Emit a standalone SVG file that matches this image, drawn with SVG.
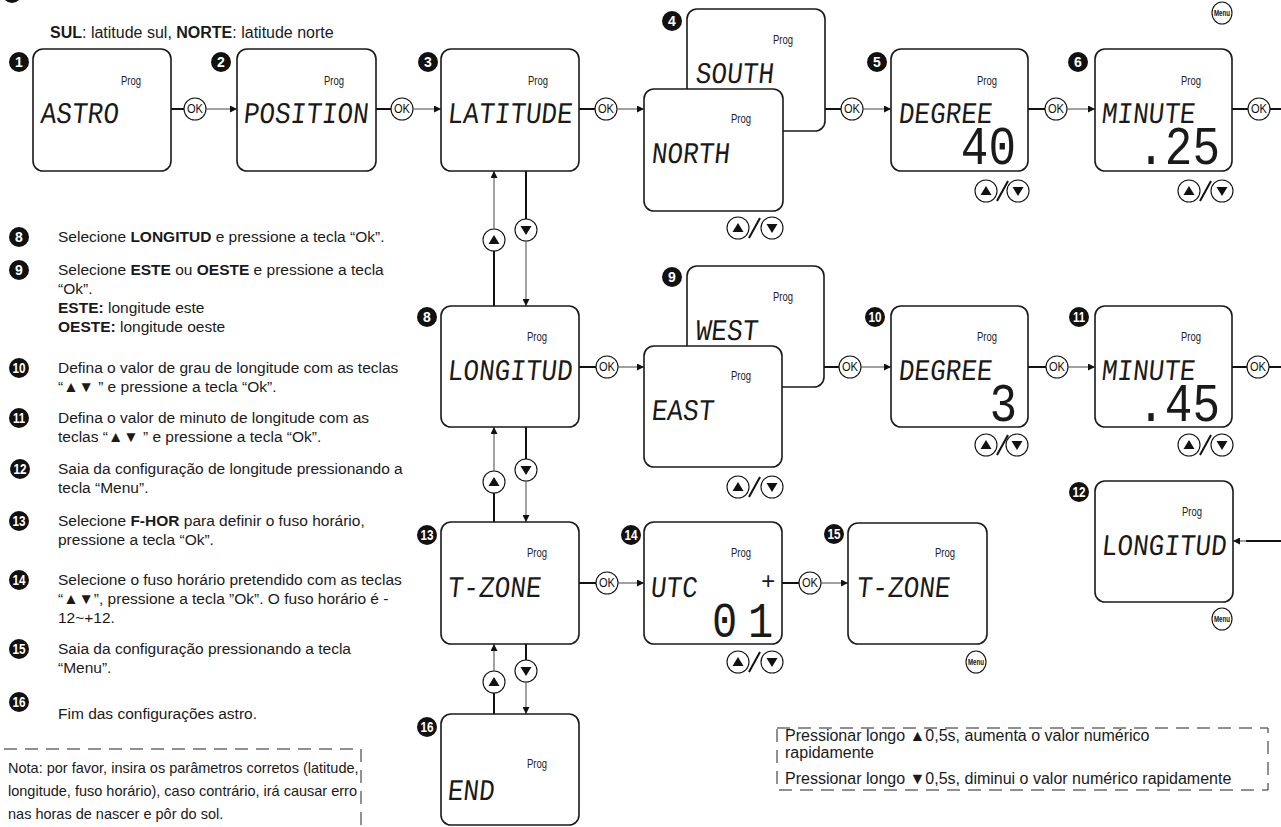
<svg xmlns="http://www.w3.org/2000/svg" xmlns:xlink="http://www.w3.org/1999/xlink" width="1281" height="827" viewBox="0 0 1281 827">
<style>
.box{fill:#fff;stroke:#1a1a1a;stroke-width:1.6}
.lcd{font-family:"Liberation Mono","DejaVu Sans Mono",monospace;font-size:26px;fill:#1a1a1a}
.big{font-family:"Liberation Mono","DejaVu Sans Mono",monospace;font-size:46px;fill:#1a1a1a}
.prog{font-family:"Liberation Sans",Arial,sans-serif;font-size:12px;fill:#222;text-anchor:middle}
.bd{fill:#111}
.bn{font-family:"Liberation Sans",Arial,sans-serif;font-size:14px;font-weight:bold;fill:#fff;text-anchor:middle}
.txt{font-family:"Liberation Sans",Arial,sans-serif;font-size:15.5px;fill:#1a1a1a}
.sm{font-size:14.5px}
.lg{font-size:16px}
.b{font-weight:bold}
.thick{stroke:#111;stroke-width:2;fill:none}
.thin{stroke:#444;stroke-width:1;fill:none}
.btn{fill:#fff;stroke:#111;stroke-width:1.1}
.ok{font-family:"Liberation Sans",Arial,sans-serif;font-size:12px;fill:#111;text-anchor:middle}
.menu{font-family:"Liberation Sans",Arial,sans-serif;font-size:9px;font-weight:bold;fill:#111;text-anchor:middle}
.dash{fill:none;stroke:#222;stroke-width:1;stroke-dasharray:13 8}
</style>
<defs>
<marker id="ah" viewBox="0 0 10 10" refX="10" refY="5" markerWidth="10" markerHeight="7" orient="auto" markerUnits="userSpaceOnUse"><path d="M0,0 L10,5 L0,10 z" fill="#111"/></marker>
<g id="up"><circle r="11" class="btn"/><path d="M-5.5,4 L0,-5 L5.5,4 z" fill="#111"/></g>
<g id="dn"><circle r="11" class="btn"/><path d="M-5.5,-4 L0,5 L5.5,-4 z" fill="#111"/></g>
<g id="okb"><circle r="11" class="btn"/><text y="4.3" class="ok" textLength="16" lengthAdjust="spacingAndGlyphs">OK</text></g>
<g id="menub"><ellipse rx="10" ry="11" class="btn"/><text y="3.3" class="menu" textLength="16" lengthAdjust="spacingAndGlyphs">Menu</text></g>
</defs>
<rect width="1281" height="827" fill="#fff"/>

<!-- top-left cut badge -->
<circle cx="12" cy="-7" r="10" class="bd"/>

<text x="50" y="38" class="txt lg"><tspan class="b">SUL</tspan>: latitude sul, <tspan class="b">NORTE</tspan>: latitude norte</text>

<use xlink:href="#menub" x="1222" y="13"/>

<!-- left column -->
<g id="instructions">
<circle cx="19" cy="237" r="10" class="bd"/><text x="19" y="242" class="bn">8</text>
<text x="58" y="242" class="txt">Selecione <tspan class="b">LONGITUD</tspan> e pressione a tecla “Ok”.</text>
<circle cx="19" cy="270" r="10" class="bd"/><text x="19" y="275" class="bn">9</text>
<text x="58" y="275" class="txt">Selecione <tspan class="b">ESTE</tspan> ou <tspan class="b">OESTE</tspan> e pressione a tecla</text>
<text x="58" y="294" class="txt">“Ok”.</text>
<text x="58" y="313" class="txt"><tspan class="b">ESTE:</tspan> longitude este</text>
<text x="58" y="332" class="txt"><tspan class="b">OESTE:</tspan> longitude oeste</text>
<circle cx="19" cy="368" r="10" class="bd"/><text x="19" y="373" class="bn" textLength="13" lengthAdjust="spacingAndGlyphs">10</text>
<text x="58" y="373" class="txt">Defina o valor de grau de longitude com as teclas</text>
<text x="58" y="392" class="txt">“▲▼ ” e pressione a tecla “Ok”.</text>
<circle cx="19" cy="418" r="10" class="bd"/><text x="19" y="423" class="bn" textLength="12" lengthAdjust="spacingAndGlyphs">11</text>
<text x="58" y="423" class="txt">Defina o valor de minuto de longitude com as</text>
<text x="58" y="442" class="txt">teclas “▲▼ ” e pressione a tecla “Ok”.</text>
<circle cx="20" cy="469" r="10" class="bd"/><text x="20" y="474" class="bn" textLength="13" lengthAdjust="spacingAndGlyphs">12</text>
<text x="58" y="474" class="txt">Saia da configuração de longitude pressionando a</text>
<text x="58" y="493" class="txt">tecla “Menu”.</text>
<circle cx="19" cy="521" r="10" class="bd"/><text x="19" y="526" class="bn" textLength="13" lengthAdjust="spacingAndGlyphs">13</text>
<text x="58" y="526" class="txt">Selecione <tspan class="b">F-HOR</tspan> para definir o fuso horário,</text>
<text x="58" y="545" class="txt">pressione a tecla “Ok”.</text>
<circle cx="19" cy="580" r="10" class="bd"/><text x="19" y="585" class="bn" textLength="13" lengthAdjust="spacingAndGlyphs">14</text>
<text x="58" y="585" class="txt">Selecione o fuso horário pretendido com as teclas</text>
<text x="58" y="604" class="txt">“▲▼”, pressione a tecla ”Ok”. O fuso horário é -</text>
<text x="58" y="623" class="txt">12~+12.</text>
<circle cx="19" cy="649" r="10" class="bd"/><text x="19" y="654" class="bn" textLength="13" lengthAdjust="spacingAndGlyphs">15</text>
<text x="58" y="654" class="txt">Saia da configuração pressionando a tecla</text>
<text x="58" y="673" class="txt">“Menu”.</text>
<circle cx="19" cy="702" r="10" class="bd"/><text x="19" y="707" class="bn" textLength="13" lengthAdjust="spacingAndGlyphs">16</text>
<text x="58" y="719" class="txt">Fim das configurações astro.</text>
</g>

<g id="note-left">
<path d="M4 749 H361 V827" class="dash"/>
<text x="8" y="773" class="txt sm">Nota: por favor, insira os parâmetros corretos (latitude,</text>
<text x="8" y="796" class="txt sm">longitude, fuso horário), caso contrário, irá causar erro</text>
<text x="8" y="819" class="txt sm">nas horas de nascer e pôr do sol.</text>
</g>

<g id="note-right">
<rect x="777" y="728" width="491" height="62" class="dash"/>
<text x="785" y="741" class="txt lg">Pressionar longo ▲0,5s, aumenta o valor numérico</text>
<text x="785" y="758" class="txt lg">rapidamente</text>
<text x="785" y="784" class="txt lg">Pressionar longo ▼0,5s, diminui o valor numérico rapidamente</text>
</g>

<!-- connectors -->
<g id="connectors">
<path d="M171 109 H184" class="thick"/><use xlink:href="#okb" x="195" y="109"/><path d="M206 109 H237" class="thin" marker-end="url(#ah)"/>
<path d="M376 109 H391" class="thick"/><use xlink:href="#okb" x="402" y="109"/><path d="M413 109 H441" class="thin" marker-end="url(#ah)"/>
<path d="M579 109 H595" class="thick"/><use xlink:href="#okb" x="606" y="109"/><path d="M617 109 H644" class="thin" marker-end="url(#ah)"/>
<path d="M825 109 H841" class="thick"/><use xlink:href="#okb" x="852" y="109"/><path d="M863 109 H891" class="thin" marker-end="url(#ah)"/>
<path d="M1028 109 H1045" class="thick"/><use xlink:href="#okb" x="1056" y="109"/><path d="M1067 109 H1095" class="thin" marker-end="url(#ah)"/>
<path d="M1232 109 H1248" class="thick"/><use xlink:href="#okb" x="1259" y="109"/><path d="M1270 109 H1281" class="thick"/>
<path d="M579 367 H596" class="thick"/><use xlink:href="#okb" x="607" y="367"/><path d="M618 367 H644" class="thin" marker-end="url(#ah)"/>
<path d="M824 367 H839" class="thick"/><use xlink:href="#okb" x="850" y="367"/><path d="M861 367 H891" class="thin" marker-end="url(#ah)"/>
<path d="M1028 367 H1046" class="thick"/><use xlink:href="#okb" x="1057" y="367"/><path d="M1068 367 H1095" class="thin" marker-end="url(#ah)"/>
<path d="M1232 367 H1247" class="thick"/><use xlink:href="#okb" x="1258" y="367"/><path d="M1269 367 H1281" class="thick"/>
<path d="M579 583 H596" class="thick"/><use xlink:href="#okb" x="607" y="583"/><path d="M618 583 H644" class="thin" marker-end="url(#ah)"/>
<path d="M782 583 H799" class="thick"/><use xlink:href="#okb" x="810" y="583"/><path d="M821 583 H848" class="thin" marker-end="url(#ah)"/>
<path d="M1281 541 H1246" class="thick"/><path d="M1247 541 H1233" class="thin" marker-end="url(#ah)"/>
<path d="M494 306 V251" class="thick"/><use xlink:href="#up" x="494" y="240"/><path d="M494 229 V171" class="thin" marker-end="url(#ah)"/>
<path d="M526 171 V219" class="thick"/><use xlink:href="#dn" x="526" y="230"/><path d="M526 241 V306" class="thin" marker-end="url(#ah)"/>
<path d="M494 522 V493" class="thick"/><use xlink:href="#up" x="494" y="482"/><path d="M494 471 V427" class="thin" marker-end="url(#ah)"/>
<path d="M526 427 V459" class="thick"/><use xlink:href="#dn" x="526" y="470"/><path d="M526 481 V522" class="thin" marker-end="url(#ah)"/>
<path d="M494 714 V693" class="thick"/><use xlink:href="#up" x="494" y="682"/><path d="M494 671 V644" class="thin" marker-end="url(#ah)"/>
<path d="M526 644 V660" class="thick"/><use xlink:href="#dn" x="526" y="671"/><path d="M526 682 V714" class="thin" marker-end="url(#ah)"/>
</g>

<!-- nodes -->
<g id="n1">
<rect x="33" y="49" width="138" height="122" rx="10" class="box"/>
<circle cx="19" cy="62" r="10" class="bd"/><text x="19" y="67" class="bn">1</text>
<text x="131" y="85" class="prog" textLength="20" lengthAdjust="spacingAndGlyphs">Prog</text>
<text class="lcd" transform="translate(40 123) skewX(-6) scale(1 1.15)">ASTRO</text>
</g>
<g id="n2">
<rect x="237" y="49" width="139" height="122" rx="10" class="box"/>
<circle cx="221" cy="62" r="10" class="bd"/><text x="221" y="67" class="bn">2</text>
<text x="334" y="85" class="prog" textLength="20" lengthAdjust="spacingAndGlyphs">Prog</text>
<text class="lcd" transform="translate(243 123) skewX(-6) scale(1 1.15)">POSITION</text>
</g>
<g id="n3">
<rect x="441" y="49" width="138" height="122" rx="10" class="box"/>
<circle cx="428" cy="62" r="10" class="bd"/><text x="428" y="67" class="bn">3</text>
<text x="538" y="85" class="prog" textLength="20" lengthAdjust="spacingAndGlyphs">Prog</text>
<text class="lcd" transform="translate(447 123) skewX(-6) scale(1 1.15)">LATITUDE</text>
</g>
<g id="n4">
<rect x="687" y="9" width="138" height="122" rx="10" class="box"/>
<circle cx="672" cy="21" r="10" class="bd"/><text x="672" y="26" class="bn">4</text>
<text x="783" y="44" class="prog" textLength="20" lengthAdjust="spacingAndGlyphs">Prog</text>
<text class="lcd" transform="translate(695 83) skewX(-6) scale(1 1.15)">SOUTH</text>
<rect x="644" y="89" width="139" height="122" rx="10" class="box"/>
<text x="741" y="123" class="prog" textLength="20" lengthAdjust="spacingAndGlyphs">Prog</text>
<text class="lcd" transform="translate(651 163) skewX(-6) scale(1 1.15)">NORTH</text>
<use xlink:href="#up" x="738" y="228"/><path d="M749 238 L760 218" class="thick" stroke-width="1.3"/><use xlink:href="#dn" x="772" y="228"/>
</g>
<g id="n5">
<rect x="891" y="49" width="137" height="122" rx="10" class="box"/>
<circle cx="877" cy="62" r="10" class="bd"/><text x="877" y="67" class="bn">5</text>
<text x="987" y="85" class="prog" textLength="20" lengthAdjust="spacingAndGlyphs">Prog</text>
<text class="lcd" transform="translate(898 123) skewX(-6) scale(1 1.15)">DEGREE</text>
<text class="big" text-anchor="end" transform="translate(1016 164) scale(1 1.15)">40</text>
<use xlink:href="#up" x="986" y="191"/><path d="M997 201 L1008 181" class="thick" stroke-width="1.3"/><use xlink:href="#dn" x="1018" y="191"/>
</g>
<g id="n6">
<rect x="1095" y="49" width="137" height="122" rx="10" class="box"/>
<circle cx="1078" cy="62" r="10" class="bd"/><text x="1078" y="67" class="bn">6</text>
<text x="1191" y="85" class="prog" textLength="20" lengthAdjust="spacingAndGlyphs">Prog</text>
<text class="lcd" transform="translate(1101 123) skewX(-6) scale(1 1.15)">MINUTE</text>
<text class="big" text-anchor="end" transform="translate(1220 164) scale(1 1.15)">.25</text>
<use xlink:href="#up" x="1189" y="191"/><path d="M1200 201 L1211 181" class="thick" stroke-width="1.3"/><use xlink:href="#dn" x="1222" y="191"/>
</g>
<g id="n8">
<rect x="441" y="306" width="138" height="121" rx="10" class="box"/>
<circle cx="427" cy="317" r="10" class="bd"/><text x="427" y="322" class="bn">8</text>
<text x="537" y="341" class="prog" textLength="20" lengthAdjust="spacingAndGlyphs">Prog</text>
<text class="lcd" transform="translate(447 380) skewX(-6) scale(1 1.15)">LONGITUD</text>
</g>
<g id="n9">
<rect x="687" y="266" width="137" height="121" rx="10" class="box"/>
<circle cx="672" cy="277" r="10" class="bd"/><text x="672" y="282" class="bn">9</text>
<text x="783" y="301" class="prog" textLength="20" lengthAdjust="spacingAndGlyphs">Prog</text>
<text class="lcd" transform="translate(695 340) skewX(-6) scale(1 1.15)">WEST</text>
<rect x="644" y="346" width="138" height="121" rx="10" class="box"/>
<text x="741" y="380" class="prog" textLength="20" lengthAdjust="spacingAndGlyphs">Prog</text>
<text class="lcd" transform="translate(651 420) skewX(-6) scale(1 1.15)">EAST</text>
<use xlink:href="#up" x="738" y="487"/><path d="M749 497 L760 477" class="thick" stroke-width="1.3"/><use xlink:href="#dn" x="772" y="487"/>
</g>
<g id="n10">
<rect x="891" y="306" width="137" height="121" rx="10" class="box"/>
<circle cx="875" cy="317" r="10" class="bd"/><text x="875" y="322" class="bn" textLength="13" lengthAdjust="spacingAndGlyphs">10</text>
<text x="987" y="341" class="prog" textLength="20" lengthAdjust="spacingAndGlyphs">Prog</text>
<text class="lcd" transform="translate(898 380) skewX(-6) scale(1 1.15)">DEGREE</text>
<text class="big" text-anchor="end" transform="translate(1017 421) scale(1 1.15)">3</text>
<use xlink:href="#up" x="986" y="445"/><path d="M997 455 L1008 435" class="thick" stroke-width="1.3"/><use xlink:href="#dn" x="1017" y="445"/>
</g>
<g id="n11">
<rect x="1095" y="306" width="137" height="121" rx="10" class="box"/>
<circle cx="1079" cy="317" r="10" class="bd"/><text x="1079" y="322" class="bn" textLength="12" lengthAdjust="spacingAndGlyphs">11</text>
<text x="1191" y="341" class="prog" textLength="20" lengthAdjust="spacingAndGlyphs">Prog</text>
<text class="lcd" transform="translate(1101 380) skewX(-6) scale(1 1.15)">MINUTE</text>
<text class="big" text-anchor="end" transform="translate(1220 421) scale(1 1.15)">.45</text>
<use xlink:href="#up" x="1189" y="445"/><path d="M1200 455 L1211 435" class="thick" stroke-width="1.3"/><use xlink:href="#dn" x="1222" y="445"/>
</g>
<g id="n12">
<rect x="1095" y="481" width="138" height="121" rx="10" class="box"/>
<circle cx="1079" cy="492" r="10" class="bd"/><text x="1079" y="497" class="bn" textLength="13" lengthAdjust="spacingAndGlyphs">12</text>
<text x="1192" y="516" class="prog" textLength="20" lengthAdjust="spacingAndGlyphs">Prog</text>
<text class="lcd" transform="translate(1101 555) skewX(-6) scale(1 1.15)">LONGITUD</text>
<use xlink:href="#menub" x="1222" y="619"/>
</g>
<g id="n13">
<rect x="441" y="522" width="138" height="122" rx="10" class="box"/>
<circle cx="427" cy="535" r="10" class="bd"/><text x="427" y="540" class="bn" textLength="13" lengthAdjust="spacingAndGlyphs">13</text>
<text x="537" y="557" class="prog" textLength="20" lengthAdjust="spacingAndGlyphs">Prog</text>
<text class="lcd" transform="translate(447 597) skewX(-6) scale(1 1.15)">T-ZONE</text>
</g>
<g id="n14">
<rect x="644" y="522" width="138" height="122" rx="10" class="box"/>
<circle cx="631" cy="535" r="10" class="bd"/><text x="631" y="540" class="bn" textLength="13" lengthAdjust="spacingAndGlyphs">14</text>
<text x="741" y="557" class="prog" textLength="20" lengthAdjust="spacingAndGlyphs">Prog</text>
<text class="lcd" transform="translate(650 597) skewX(-6) scale(1 1.15)">UTC</text>
<text class="lcd" style="font-size:24px" transform="translate(761 589)">+</text>
<text class="big" style="font-size:42px" transform="translate(0 637) scale(1 1.2)"><tspan x="712">0</tspan><tspan x="748">1</tspan></text>
<use xlink:href="#up" x="738" y="662"/><path d="M749 672 L760 652" class="thick" stroke-width="1.3"/><use xlink:href="#dn" x="772" y="662"/>
</g>
<g id="n15">
<rect x="848" y="523" width="139" height="121" rx="10" class="box"/>
<circle cx="834" cy="534" r="10" class="bd"/><text x="834" y="539" class="bn" textLength="13" lengthAdjust="spacingAndGlyphs">15</text>
<text x="945" y="557" class="prog" textLength="20" lengthAdjust="spacingAndGlyphs">Prog</text>
<text class="lcd" transform="translate(856 597) skewX(-6) scale(1 1.15)">T-ZONE</text>
<use xlink:href="#menub" x="976" y="662"/>
</g>
<g id="n16">
<rect x="441" y="714" width="138" height="111" rx="10" class="box"/>
<circle cx="427" cy="727" r="10" class="bd"/><text x="427" y="732" class="bn" textLength="13" lengthAdjust="spacingAndGlyphs">16</text>
<text x="537" y="768" class="prog" textLength="20" lengthAdjust="spacingAndGlyphs">Prog</text>
<text class="lcd" transform="translate(447 800) skewX(-6) scale(1 1.15)">END</text>
</g>
</svg>
